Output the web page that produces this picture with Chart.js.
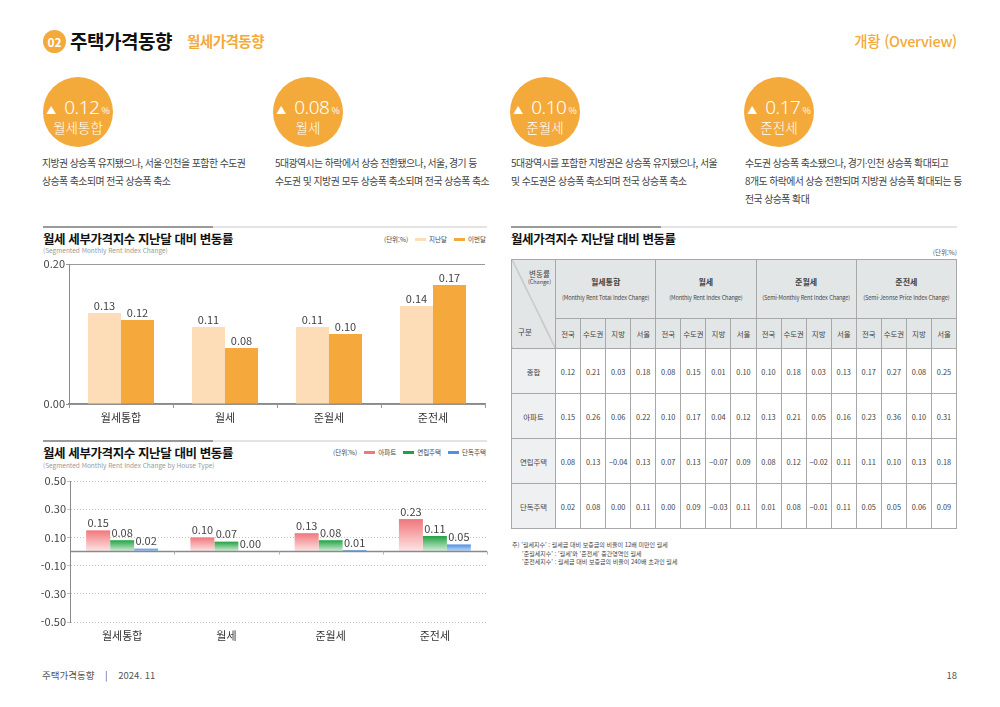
<!DOCTYPE html>
<html lang="ko">
<head>
<meta charset="utf-8">
<script src="https://cdn.jsdelivr.net/npm/chart.js@4"></script>
<style>
  * { margin: 0; padding: 0; box-sizing: border-box; }
  body { width: 1000px; height: 707px; background: #fff; font-family: "Noto Sans CJK KR", "Noto Sans", sans-serif; color: #333; position: relative; overflow: hidden; }
  .abs { position: absolute; }
  .num02 { left: 43px; top: 30px; width: 23px; height: 23px; border-radius: 50%; background: #F4A93B; color: #fff; font-size: 12px; font-weight: 700; text-align: center; line-height: 23px; }
  .h-main { left: 70px; top: 27px; font-size: 19px; font-weight: 700; color: #111; line-height: 28px; letter-spacing: -0.5px; }
  .h-sub { left: 187px; top: 31px; font-size: 14.5px; font-weight: 700; color: #F4A93B; line-height: 20px; letter-spacing: -0.5px; }
  .h-right { right: 43px; top: 31px; font-size: 14.5px; color: #F4A93B; line-height: 20px; font-weight: 500; letter-spacing: -0.3px; }
  .bubble { width: 70px; height: 70px; border-radius: 50%; background: #F4A93B; color: #fff; top: 77px; text-align: center; }
  .bubble .l1 { position: absolute; top: 19px; left: 0; width: 70px; height: 22px; line-height: 22px; display: flex; justify-content: center; align-items: baseline; white-space: nowrap; }
  .bubble .tri { font-size: 10px; margin-right: 8px; line-height: 22px; }
  .bubble .val { font-size: 19px; font-weight: 300; letter-spacing: -0.5px; line-height: 22px; font-family: "Noto Sans", sans-serif; }
  .bubble .pct { font-size: 9px; margin-left: 2px; line-height: 22px; }
  .bubble .l2 { position: absolute; top: 41px; left: 0; width: 70px; font-size: 13.5px; font-weight: 300; line-height: 18px; }
  .desc { top: 154px; font-size: 9.9px; line-height: 18px; color: #444; letter-spacing: -0.55px; white-space: nowrap; }
  .rule { height: 2px; background: linear-gradient(to right, #9a9a9a 0, #9a9a9a var(--d), #e4e4e4 var(--d), #e4e4e4 100%); }
  .ctitle { font-size: 12.5px; font-weight: 700; color: #111; letter-spacing: -0.4px; line-height: 16px; }
  .csub { font-size: 6.5px; color: #999; line-height: 9px; }
  .legend { display: flex; align-items: center; font-size: 6.5px; color: #444; white-space: nowrap; }
  .legend .sw { display: inline-block; width: 11px; height: 3px; margin: 0 3px 0 7px; }
  .chartbox { position: absolute; }
  table { border-collapse: collapse; table-layout: fixed; position: absolute; left: 511px; top: 259px; width: 446px; font-size: 7.4px; color: #444; }
  td, th { border: 1px solid #a8a8a8; text-align: center; font-weight: 400; padding: 0; }
  th { background: #E3E6E7; }
  .corner { position: relative; background: #E3E6E7 linear-gradient(to top right, transparent calc(50% - 0.6px), #9a9a9a 50%, transparent calc(50% + 0.6px)); }
  .corner .c1 { position: absolute; right: 4px; top: 9px; font-size: 7.5px; line-height: 9px; text-align: center; }
  .corner .c1 small { display: block; font-size: 5.5px; }
  .corner .c2 { position: absolute; left: 6px; bottom: 11px; font-size: 7.5px; }
  .gname { font-size: 8px; font-weight: 700; line-height: 12px; }
  .gen { font-size: 5.6px; line-height: 9px; margin-top: 6px; white-space: nowrap; letter-spacing: -0.1px; }
  td.rl { background: #EEF0F1; }
  .note { left: 512px; top: 541px; font-size: 6px; line-height: 8.5px; color: #444; }
  .footer { top: 668px; font-size: 9.5px; color: #555; line-height: 14px; }
</style>
</head>
<body>
<div class="abs num02">02</div>
<div class="abs h-main">주택가격동향</div>
<div class="abs h-sub">월세가격동향</div>
<div class="abs h-right">개황 (Overview)</div>

<div id="bubbles"></div>

<div class="abs rule" style="left:43px; top:226px; width:444px; --d:170px;"></div>
<div class="abs ctitle" style="left:43px; top:231px;">월세 세부가격지수 지난달 대비 변동률</div>
<div class="abs csub" style="left:43px; top:246px;">(Segmented Monthly Rent Index Change)</div>
<div class="abs legend" id="legend1" style="right:514px; top:234px;"></div>
<div class="chartbox" style="left:30px; top:252px; width:460px; height:180px;"><canvas id="chart1"></canvas></div>

<div class="abs rule" style="left:43px; top:440px; width:444px; --d:170px;"></div>
<div class="abs ctitle" style="left:43px; top:445px;">월세 세부가격지수 지난달 대비 변동률</div>
<div class="abs csub" style="left:43px; top:461px;">(Segmented Monthly Rent Index Change by House Type)</div>
<div class="abs legend" id="legend2" style="right:514px; top:447px;"></div>
<div class="chartbox" style="left:30px; top:469px; width:460px; height:180px;"><canvas id="chart2"></canvas></div>

<div class="abs rule" style="left:511px; top:226px; width:446px; --d:150px;"></div>
<div class="abs ctitle" style="left:511px; top:231px;">월세가격지수 지난달 대비 변동률</div>
<div class="abs csub" style="right:43px; top:248px; color:#555;">(단위:%)</div>
<table id="tbl"></table>

<div class="abs note">
  <div>주) '월세지수' : 월세금 대비 보증금의 비율이 12배 미만인 월세</div>
  <div style="padding-left:10px;">'준월세지수' : '월세'와 '준전세' 중간영역인 월세</div>
  <div style="padding-left:10px;">'준전세지수' : 월세금 대비 보증금의 비율이 240배 초과인 월세</div>
</div>

<div class="abs footer" style="left:42px;">주택가격동향 &nbsp;&nbsp;&nbsp;|&nbsp;&nbsp;&nbsp; 2024. 11</div>
<div class="abs footer" style="right:43px;">18</div>

<script>
// summary bubbles
const summaryLabels = ['월세통합', '월세', '준월세', '준전세'];
const summaryValues = [0.12, 0.08, 0.10, 0.17];
const summaryTexts = [
    '지방권 상승폭 유지됐으나, 서울·인천을 포함한 수도권<br>상승폭 축소되며 전국 상승폭 축소',
    '5대광역시는 하락에서 상승 전환됐으나, 서울, 경기 등<br>수도권 및 지방권 모두 상승폭 축소되며 전국 상승폭 축소',
    '5대광역시를 포함한 지방권은 상승폭 유지됐으나, 서울<br>및 수도권은 상승폭 축소되며 전국 상승폭 축소',
    '수도권 상승폭 축소됐으나, 경기·인천 상승폭 확대되고<br>8개도 하락에서 상승 전환되며 지방권 상승폭 확대되는 등<br>전국 상승폭 확대'
];

// chart 1
const categories = ['월세통합', '월세', '준월세', '준전세'];
const lastMonth = [0.13, 0.11, 0.11, 0.14];
const thisMonth = [0.12, 0.08, 0.10, 0.17];

// chart 2
const apartment = [0.15, 0.10, 0.13, 0.23];
const rowHouse = [0.08, 0.07, 0.08, 0.11];
const detached = [0.02, 0.00, 0.01, 0.05];

// table
const tableGroups = ['월세통합', '월세', '준월세', '준전세'];
const tableGroupsEn = ['(Monthly Rent Total Index Change)', '(Monthly Rent Index Change)', '(Semi-Monthly Rent Index Change)', '(Semi-Jeonse Price Index Change)'];
const regions = ['전국', '수도권', '지방', '서울'];
const rowLabels = ['종합', '아파트', '연립주택', '단독주택'];
const rowTotal = [0.12, 0.21, 0.03, 0.18, 0.08, 0.15, 0.01, 0.10, 0.10, 0.18, 0.03, 0.13, 0.17, 0.27, 0.08, 0.25];
const rowApt = [0.15, 0.26, 0.06, 0.22, 0.10, 0.17, 0.04, 0.12, 0.13, 0.21, 0.05, 0.16, 0.23, 0.36, 0.10, 0.31];
const rowRow = [0.08, 0.13, -0.04, 0.13, 0.07, 0.13, -0.07, 0.09, 0.08, 0.12, -0.02, 0.11, 0.11, 0.10, 0.13, 0.18];
const rowDet = [0.02, 0.08, 0.00, 0.11, 0.00, 0.09, -0.03, 0.11, 0.01, 0.08, -0.01, 0.11, 0.05, 0.05, 0.06, 0.09];

const bubbleX = [43, 273, 510, 744];
const descX = [42, 275, 511, 745];
let bhtml = '';
summaryLabels.forEach(function (lab, i) {
    bhtml += '<div class="abs bubble" style="left:' + bubbleX[i] + 'px">' +
        '<div class="l1"><span class="tri">▲</span><span class="val">' + summaryValues[i].toFixed(2) + '</span><span class="pct">%</span></div>' +
        '<div class="l2">' + lab + '</div></div>';
    bhtml += '<div class="abs desc" style="left:' + descX[i] + 'px">' + summaryTexts[i] + '</div>';
});
document.getElementById('bubbles').innerHTML = bhtml;

// table build
const fmt = v => (v < 0 ? '−' + Math.abs(v).toFixed(2) : v.toFixed(2));
let t = '<colgroup><col style="width:44px">';
for (let i = 0; i < 16; i++) t += '<col>';
t += '</colgroup>';
t += '<tr style="height:59px"><th rowspan="2" class="corner"><div class="c1">변동률<small>(Change)</small></div><div class="c2">구분</div></th>';
tableGroups.forEach(function (g, i) {
    t += '<th colspan="4"><div class="gname">' + g + '</div><div class="gen">' + tableGroupsEn[i] + '</div></th>';
});
t += '</tr><tr style="height:30px">';
tableGroups.forEach(function () {
    regions.forEach(function (r) { t += '<th>' + r + '</th>'; });
});
t += '</tr>';
[rowTotal, rowApt, rowRow, rowDet].forEach(function (row, i) {
    t += '<tr style="height:45px"><td class="rl">' + rowLabels[i] + '</td>';
    row.forEach(function (v) { t += '<td>' + fmt(v) + '</td>'; });
    t += '</tr>';
});
document.getElementById('tbl').innerHTML = t;

// value labels above bars
const valueLabels = {
    id: 'valueLabels',
    afterDatasetsDraw(chart) {
        const ctx = chart.ctx;
        ctx.save();
        ctx.font = '11px "Noto Sans CJK KR", sans-serif';
        ctx.fillStyle = '#444';
        ctx.textAlign = 'center';
        ctx.textBaseline = 'bottom';
        chart.data.datasets.forEach(function (ds, i) {
            chart.getDatasetMeta(i).data.forEach(function (bar, j) {
                ctx.fillText(ds.data[j].toFixed(2), bar.x, bar.y - 2);
            });
        });
        ctx.restore();
    }
};

// zero line for chart 2
const zeroLine = {
    id: 'zeroLine',
    afterDatasetsDraw(chart) {
        const ctx = chart.ctx;
        const area = chart.chartArea;
        const y0 = chart.scales.y.getPixelForValue(0);
        ctx.save();
        ctx.strokeStyle = '#8a8a8a';
        ctx.lineWidth = 1.5;
        ctx.beginPath();
        ctx.moveTo(area.left, y0);
        ctx.lineTo(area.right, y0);
        ctx.stroke();
        ctx.lineWidth = 1;
        ctx.strokeStyle = '#b0b0b0';
        const step = (area.right - area.left) / categories.length;
        for (let i = 1; i <= categories.length; i++) {
            const x = Math.round(area.left + step * i) + 0.5;
            ctx.beginPath();
            ctx.moveTo(x, y0);
            ctx.lineTo(x, y0 + 3);
            ctx.stroke();
        }
        ctx.restore();
    }
};

function gradientFill(top, bottom) {
    return function (context) {
        const chart = context.chart;
        if (!chart.chartArea || context.raw === undefined) return top;
        const y0 = chart.scales.y.getPixelForValue(0);
        const y1 = chart.scales.y.getPixelForValue(context.raw);
        if (Math.abs(y0 - y1) < 1) return top;
        const g = chart.ctx.createLinearGradient(0, y1, 0, y0);
        g.addColorStop(0, top);
        g.addColorStop(1, bottom);
        return g;
    };
}

const tickFont = { family: '"Noto Sans CJK KR", sans-serif', size: 11 };

function legendHtml(el, items) {
    let h = '<span>(단위:%)</span>';
    items.forEach(function (it) {
        h += '<span class="sw" style="background:' + it[1] + '"></span><span>' + it[0] + '</span>';
    });
    document.getElementById(el).innerHTML = h;
}

document.addEventListener('DOMContentLoaded', function () {
    // Chart 1
    const c1 = document.getElementById('chart1');
    const ds1 = [
        { label: '지난달', data: lastMonth, backgroundColor: '#FDDDB8' },
        { label: '이번달', data: thisMonth, backgroundColor: '#F5A83B' }
    ];
    legendHtml('legend1', ds1.map(d => [d.label, d.backgroundColor]));
    new Chart(c1, {
        type: 'bar',
        data: { labels: categories, datasets: ds1 },
        options: {
            responsive: true,
            maintainAspectRatio: false,
            animation: false,
            layout: { padding: { top: 12, right: 5 } },
            plugins: { legend: { display: false }, tooltip: { enabled: false } },
            datasets: { bar: { categoryPercentage: 0.635, barPercentage: 1.0 } },
            scales: {
                x: {
                    grid: { display: true, drawOnChartArea: false, tickLength: 4, color: '#999' },
                    border: { color: '#8a8a8a', width: 1.5 },
                    ticks: { font: tickFont, color: '#333', padding: 3 },
                    afterFit: s => { s.height = 28; }
                },
                y: {
                    min: 0, max: 0.2,
                    ticks: { stepSize: 0.2, font: tickFont, color: '#444', padding: 1, callback: v => Number(v).toFixed(2) },
                    grid: { color: '#9a9a9a', tickLength: 3 },
                    border: { color: '#8a8a8a' },
                    afterFit: s => { s.width = 39; }
                }
            }
        },
        plugins: [valueLabels]
    });

    // Chart 2
    const c2 = document.getElementById('chart2');
    const ds2 = [
        { label: '아파트', data: apartment, backgroundColor: gradientFill('#F0777B', '#FDE6E6'), swatch: '#F0777B' },
        { label: '연립주택', data: rowHouse, backgroundColor: gradientFill('#22A243', '#D8F0DC'), swatch: '#22A243' },
        { label: '단독주택', data: detached, backgroundColor: gradientFill('#4E90E3', '#C9DDF7'), swatch: '#4E90E3' }
    ];
    legendHtml('legend2', ds2.map(d => [d.label, d.swatch]));
    new Chart(c2, {
        type: 'bar',
        data: { labels: categories, datasets: ds2 },
        options: {
            responsive: true,
            maintainAspectRatio: false,
            animation: false,
            layout: { padding: { top: 12, right: 3 } },
            plugins: { legend: { display: false }, tooltip: { enabled: false } },
            datasets: { bar: { categoryPercentage: 0.69, barPercentage: 1.0 } },
            scales: {
                x: {
                    grid: { display: false, drawTicks: false },
                    border: { display: false },
                    ticks: { font: tickFont, color: '#333', padding: 7 },
                    afterFit: s => { s.height = 27; }
                },
                y: {
                    min: -0.5, max: 0.5,
                    ticks: { stepSize: 0.2, font: tickFont, color: '#444', padding: 1, callback: v => Number(v).toFixed(2) },
                    grid: { color: '#c4c4c4', tickLength: 3 },
                    border: { color: '#8a8a8a', dash: [1, 2] },
                    afterFit: s => { s.width = 40; }
                }
            }
        },
        plugins: [valueLabels, zeroLine]
    });
});
</script>
</body>
</html>
